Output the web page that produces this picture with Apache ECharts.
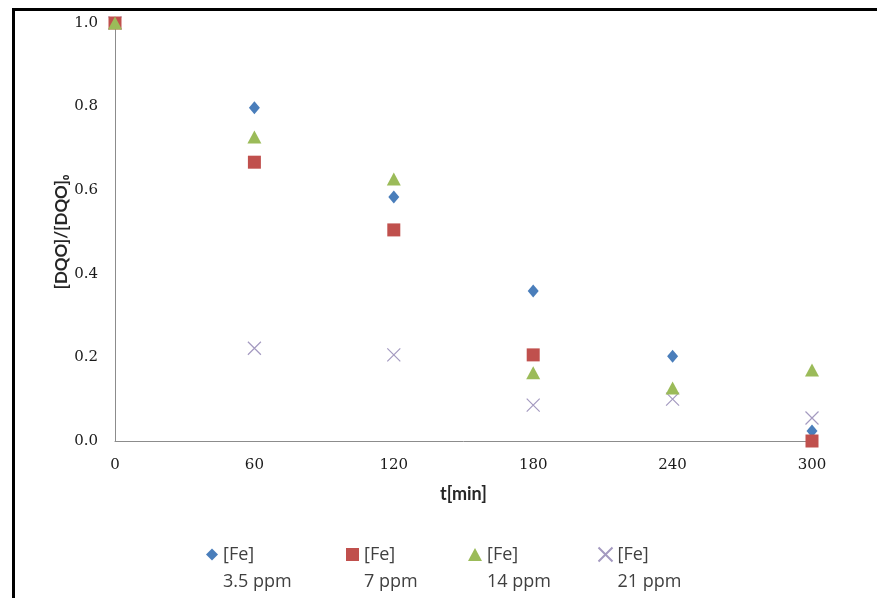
<!DOCTYPE html>
<html><head><meta charset="utf-8">
<script src="https://cdn.jsdelivr.net/npm/echarts@6/dist/echarts.min.js"></script>
<style>html,body{margin:0;padding:0;background:#fff;}#c{width:877px;height:598px;}</style>
</head><body><div id="c"></div>
<script>
var xTicks = [0, 60, 120, 180, 240, 300];
var yTicks = [0.0, 0.2, 0.4, 0.6, 0.8, 1.0];
var seriesNames = ['[Fe] 3.5 ppm', '[Fe] 7 ppm', '[Fe] 14 ppm', '[Fe] 21 ppm'];
var fe35 = [[0, 1.0], [60, 0.797], [120, 0.584], [180, 0.359], [240, 0.203], [300, 0.024]];
var fe7  = [[0, 1.0], [60, 0.667], [120, 0.505], [180, 0.206], [300, 0.0]];
var fe14 = [[0, 1.0], [60, 0.727], [120, 0.627], [180, 0.163], [240, 0.127], [300, 0.170]];
var fe21 = [[0, 1.0], [60, 0.222], [120, 0.206], [180, 0.086], [240, 0.100], [300, 0.055]];

var colors = ['#4a7ebb', '#c0504d', '#9bbb59', '#a49ac0'];
var crossPath = 'path://M0,0L10,10M10,0L0,10';

var chart = echarts.init(document.getElementById('c'), null, {renderer: 'canvas'});

function legendAt(name, left, icon, w, h) {
  return {
    data: [{name: name, icon: icon}],
    left: left, top: 509,
    itemWidth: w, itemHeight: h, itemGap: 0,
    selectedMode: false,
    formatter: function (n) { var p = n.split(' '); return ' \n' + p[0] + '\n' + p.slice(1).join(' '); },
    textStyle: {fontFamily: 'Open Sans', fontSize: 18, color: '#404040', lineHeight: 27}
  };
}

var option = {
  animation: false,
  graphic: [{
    type: 'rect', left: 11, top: 7, silent: true,
    shape: {width: 900, height: 640},
    style: {fill: 'none', stroke: '#000', lineWidth: 3}
  }],
  grid: {left: 115, right: 65, top: 23, bottom: 157},
  xAxis: {
    type: 'value', min: 0, max: 300, interval: 60,
    name: 't[min]', nameLocation: 'middle', nameGap: 44, nameMoveOverlap: false,
    nameTextStyle: {fontFamily: 'Lato', fontWeight: 'bold', fontSize: 18, color: '#262626'},
    axisLine: {show: true, lineStyle: {color: '#8c8c8c', width: 1}},
    axisTick: {show: false},
    splitLine: {show: false},
    axisLabel: {margin: 17, fontFamily: 'DejaVu Serif', fontSize: 15, color: '#1a1a1a',
      formatter: function (v) { return xTicks.indexOf(v) >= 0 ? String(v) : ''; }}
  },
  yAxis: {
    type: 'value', min: 0, max: 1, interval: 0.2,
    name: '[DQO]/[DQO]₀', nameLocation: 'middle', nameGap: 45, nameRotate: 90, nameMoveOverlap: false,
    nameTextStyle: {fontFamily: 'Lato', fontWeight: 'bold', fontSize: 17, color: '#262626'},
    axisLine: {show: true, lineStyle: {color: '#8c8c8c', width: 1}},
    axisTick: {show: false},
    splitLine: {show: false},
    axisLabel: {margin: 17, fontFamily: 'DejaVu Serif', fontSize: 15, color: '#1a1a1a',
      formatter: function (v) {
        for (var i = 0; i < yTicks.length; i++) if (Math.abs(yTicks[i] - v) < 1e-9) return yTicks[i].toFixed(1);
        return '';
      }}
  },
  legend: [
    legendAt(seriesNames[0], 201, 'diamond', 12, 12),
    legendAt(seriesNames[1], 341, 'rect', 13, 13),
    legendAt(seriesNames[2], 463, 'triangle', 14, 13),
    legendAt(seriesNames[3], 591, crossPath, 14, 14)
  ],
  series: [
    {name: seriesNames[3], type: 'scatter', data: fe21, symbol: crossPath, symbolSize: 13, z: 1,
      itemStyle: {color: 'none', borderColor: colors[3], borderWidth: 1.2, opacity: 1}},
    {name: seriesNames[0], type: 'scatter', data: fe35, symbol: 'diamond', symbolSize: [11, 13], z: 2,
      itemStyle: {color: colors[0], opacity: 1}},
    {name: seriesNames[1], type: 'scatter', data: fe7, symbol: 'rect', symbolSize: 13, z: 3,
      itemStyle: {color: colors[1], opacity: 1}},
    {name: seriesNames[2], type: 'scatter', data: fe14, symbol: 'triangle', symbolSize: [14, 13], z: 4,
      itemStyle: {color: colors[2], opacity: 1}}
  ]
};
chart.setOption(option);
</script>
</body></html>
